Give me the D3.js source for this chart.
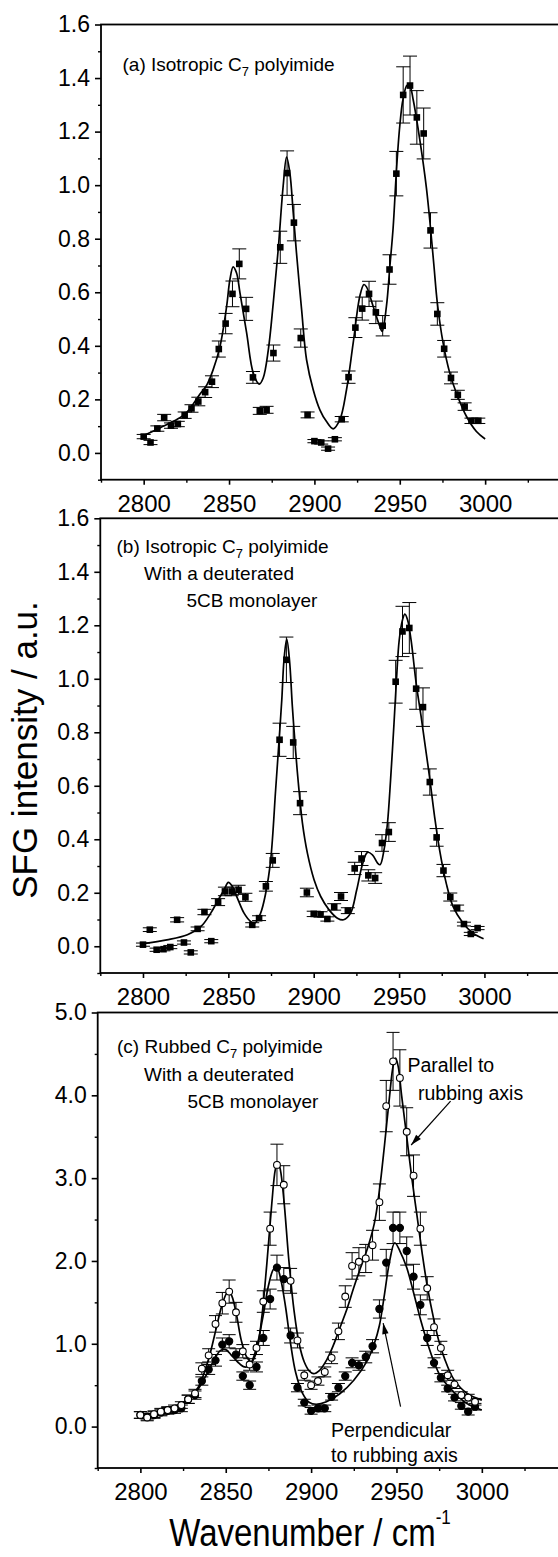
<!DOCTYPE html>
<html><head><meta charset="utf-8">
<script src="https://cdn.jsdelivr.net/npm/d3@7/dist/d3.min.js"></script>
<style>body{margin:0;background:#fff}svg{display:block}text{font-family:"Liberation Sans",Arial,sans-serif;fill:#000}</style>
</head><body>
<script>
// ---------------- DATA ----------------
const wavenumber = [2800,2804,2808,2812,2816,2820,2824,2828,2832,2836,2840,2844,2848,2852,2856,2860,2864,2868,2872,2876,
  2880,2884,2888,2892,2896,2900,2904,2908,2912,2916,2920,2924,2928,2932,2936,2940,2944,2948,2952,2956,
  2960,2964,2968,2972,2976,2980,2984,2988,2992,2996];

// (a) isotropic C7 polyimide
const isoIntensity = [0.061,0.039,0.091,0.132,0.102,0.108,0.141,0.166,0.192,0.227,0.266,0.388,0.483,0.594,0.706,0.538,0.282,0.157,0.161,0.373,
  0.768,1.045,0.860,0.429,0.142,0.044,0.039,0.016,0.051,0.126,0.283,0.468,0.539,0.594,0.525,0.475,0.685,1.043,1.337,1.372,
  1.253,1.193,0.831,0.519,0.389,0.280,0.217,0.173,0.120,0.120];
const isoError = [0.008,0.008,0.010,0.012,0.010,0.010,0.012,0.014,0.016,0.020,0.022,0.030,0.038,0.048,0.056,0.043,0.022,0.013,0.013,0.030,
  0.060,0.083,0.068,0.034,0.011,0.006,0.006,0.006,0.006,0.010,0.023,0.037,0.043,0.047,0.042,0.038,0.055,0.083,0.105,0.110,
  0.100,0.095,0.066,0.042,0.031,0.022,0.017,0.014,0.010,0.010];
const isoFit = [[2800,0.065],[2810,0.095],[2818,0.12],[2825,0.15],[2833,0.22],[2837,0.254],[2840.7,0.311],[2844.7,0.398],[2848.6,0.548],
  [2850.5,0.647],[2852.4,0.695],[2854.4,0.672],[2856.4,0.598],[2860.3,0.448],[2864.2,0.298],[2867.7,0.257],[2870,0.28],[2873,0.385],
  [2875.9,0.56],[2878.8,0.76],[2881.7,0.997],[2883.7,1.105],[2885.6,1.047],[2887.6,0.897],[2889.5,0.747],[2892.5,0.535],[2895.4,0.348],
  [2899.3,0.236],[2903.2,0.161],[2907.1,0.117],[2911,0.09],[2914.9,0.124],[2918.8,0.236],[2922.7,0.41],[2926.6,0.585],[2929,0.629],
  [2930.5,0.62],[2934.4,0.548],[2938.3,0.473],[2939.7,0.454],[2942.2,0.548],[2944.2,0.697],[2946.1,0.84],[2948.1,1.06],[2950,1.221],
  [2951.9,1.321],[2954.3,1.373],[2955.9,1.37],[2957.8,1.321],[2961.7,1.171],[2965.6,0.99],[2968,0.84],[2970,0.7],[2972,0.56],
  [2975.4,0.41],[2979.3,0.298],[2983.2,0.223],[2989.1,0.136],[2994.9,0.08],[3000,0.052]];

// (b) isotropic C7 polyimide with deuterated 5CB monolayer
const d5cbIntensity = [0.006,0.062,-0.013,-0.011,-0.003,0.099,0.014,-0.023,0.065,0.128,0.019,0.165,0.205,0.205,0.211,0.183,0.080,0.105,0.224,0.321,
  0.772,1.071,0.762,0.535,0.201,0.121,0.119,0.102,0.147,0.186,0.133,0.291,0.328,0.265,0.255,0.386,0.427,0.989,1.177,1.190,
  0.963,0.894,0.614,0.407,0.283,0.184,0.143,0.083,0.046,0.068];
const d5cbError = [0.006,0.007,0.006,0.006,0.006,0.008,0.006,0.006,0.007,0.010,0.006,0.013,0.016,0.016,0.017,0.015,0.008,0.009,0.018,0.026,
  0.062,0.085,0.060,0.043,0.016,0.010,0.010,0.008,0.012,0.015,0.011,0.023,0.026,0.021,0.020,0.031,0.035,0.080,0.094,0.095,
  0.077,0.072,0.049,0.033,0.023,0.015,0.011,0.007,0.006,0.006];
const d5cbFit = [[2800,0.01],[2814,0.024],[2826,0.043],[2834,0.074],[2839.7,0.124],[2843.6,0.168],[2847.5,0.211],[2850,0.239],[2852.3,0.224],
  [2855.3,0.18],[2859.2,0.124],[2863,0.093],[2865.4,0.086],[2868.9,0.124],[2871.9,0.199],[2874.8,0.323],[2877.7,0.585],[2879.5,0.75],
  [2881.3,0.921],[2882.6,1.071],[2884.2,1.148],[2885.8,1.071],[2887.5,0.896],[2889.5,0.722],[2891,0.61],[2893.4,0.46],[2896.3,0.348],
  [2900.2,0.249],[2904.1,0.186],[2909,0.136],[2913.9,0.105],[2917.5,0.099],[2921.6,0.124],[2925.2,0.211],[2928.5,0.305],[2931.5,0.351],
  [2934.4,0.342],[2937.4,0.311],[2938.9,0.305],[2941.2,0.361],[2943.2,0.46],[2945,0.62],[2947,0.83],[2948.5,1.0],[2950.1,1.146],
  [2952,1.22],[2953.4,1.242],[2955,1.22],[2957,1.146],[2960,0.984],[2962.9,0.859],[2965.9,0.722],[2967.8,0.635],[2970.8,0.485],
  [2973.7,0.361],[2977.6,0.236],[2981.6,0.149],[2987.4,0.087],[2993.3,0.049],[2999.5,0.028]];

// (c) rubbed C7 polyimide with deuterated 5CB monolayer
const parallelIntensity = [0.14,0.11,0.15,0.18,0.20,0.22,0.26,0.33,0.40,0.70,0.86,1.24,1.49,1.63,1.38,0.91,0.75,0.95,1.51,2.39,
  3.16,2.92,1.76,1.04,0.62,0.50,0.55,0.66,0.83,1.15,1.57,1.94,1.99,2.03,2.19,2.71,3.87,4.41,4.21,3.56,
  3.03,2.39,1.67,1.20,0.95,0.62,0.51,0.38,0.35,0.30];
const parallelError = [0.04,0.04,0.04,0.04,0.04,0.04,0.04,0.05,0.05,0.07,0.08,0.10,0.13,0.14,0.12,0.08,0.07,0.08,0.13,0.20,
  0.25,0.23,0.15,0.09,0.06,0.05,0.05,0.06,0.07,0.10,0.13,0.16,0.17,0.17,0.18,0.22,0.31,0.35,0.34,0.29,
  0.25,0.20,0.14,0.10,0.08,0.06,0.05,0.04,0.04,0.04];
const perpIntensity = [0.14,0.12,0.14,0.17,0.19,0.20,0.22,0.33,0.38,0.55,0.69,0.80,0.99,1.03,0.87,0.61,0.50,0.72,1.07,1.54,
  1.92,1.78,1.10,0.47,0.29,0.19,0.22,0.22,0.36,0.47,0.61,0.77,0.74,0.84,0.97,1.42,1.98,2.40,2.40,2.12,
  1.81,1.47,1.07,0.77,0.59,0.46,0.35,0.25,0.18,0.24];
const perpError = [0.04,0.04,0.04,0.04,0.04,0.04,0.04,0.05,0.05,0.05,0.06,0.07,0.08,0.08,0.07,0.05,0.05,0.06,0.09,0.12,
  0.15,0.14,0.09,0.05,0.04,0.04,0.04,0.04,0.04,0.05,0.05,0.06,0.06,0.07,0.08,0.11,0.16,0.19,0.19,0.17,
  0.15,0.12,0.09,0.06,0.05,0.04,0.04,0.04,0.04,0.04];
const parallelFit = [[2800,0.13],[2810,0.17],[2820,0.24],[2828,0.33],[2834,0.48],[2840,0.82],[2844,1.15],[2848,1.48],[2851,1.62],[2853,1.6],
  [2856,1.38],[2859,1.05],[2862,0.85],[2865,0.78],[2868,0.9],[2871,1.3],[2874,1.95],[2877,2.7],[2879,3.1],[2880.5,3.2],[2882,3.1],
  [2884,2.75],[2887,2.0],[2890,1.4],[2893,1.0],[2896,0.78],[2899,0.67],[2901.5,0.64],[2905,0.68],[2909,0.8],[2913,0.98],[2917,1.2],
  [2921,1.42],[2925,1.68],[2929,1.92],[2933,2.15],[2937,2.45],[2940,2.85],[2943,3.4],[2946,4.0],[2948,4.35],[2949.5,4.45],[2951,4.35],
  [2953,4.0],[2956,3.5],[2959,3.0],[2962,2.55],[2965,2.1],[2968,1.7],[2972,1.28],[2975,1.02],[2978,0.83],[2983.6,0.57],[2991.4,0.40],[3000,0.32]];
const perpFit = [[2800,0.13],[2815,0.2],[2825,0.28],[2832,0.4],[2838,0.6],[2843,0.8],[2847,0.92],[2850,0.93],[2853,0.87],[2857,0.78],
  [2861,0.72],[2864,0.74],[2868,0.95],[2872,1.35],[2875,1.7],[2878,1.9],[2880,1.92],[2882,1.8],[2885,1.45],[2888,1.0],[2891,0.65],
  [2895,0.4],[2899,0.29],[2903,0.27],[2909,0.3],[2917,0.4],[2925,0.56],[2933,0.8],[2937,1.0],[2940,1.22],[2943,1.6],[2946,2.0],
  [2949,2.22],[2952,2.12],[2956,1.92],[2960,1.62],[2964,1.3],[2968,1.02],[2972,0.78],[2976,0.6],[2982,0.45],[2991,0.28],[3000,0.2]];

// ticks
const xTicks = [2800,2850,2900,2950,3000];
const xMinorTicks = [2775,2825,2875,2925,2975,3025];
const yTicksAB = [0,0.2,0.4,0.6,0.8,1.0,1.2,1.4,1.6];
const yMinorAB = [-0.1,0.1,0.3,0.5,0.7,0.9,1.1,1.3,1.5];
const yTicksC = [0,1,2,3,4,5];
const yMinorC = [-0.5,0.5,1.5,2.5,3.5,4.5];

// ---------------- DRAW ----------------
const W = 558, H = 1557;
const svg = d3.select("body").append("svg").attr("width", W).attr("height", H);
svg.append("rect").attr("width", W).attr("height", H).attr("fill", "#fff");
const FONT = '"Liberation Sans",Arial,sans-serif';

function makePanel(cfg) {
  const x = d3.scaleLinear().domain([2775, 3050]).range([cfg.left, cfg.left + 469.5]);
  const y = d3.scaleLinear().domain(cfg.yDomain).range([cfg.bottom, cfg.top]);
  const g = svg.append("g");
  g.append("rect").attr("x", cfg.left).attr("y", cfg.top)
    .attr("width", 469.5).attr("height", cfg.bottom - cfg.top)
    .attr("fill", "none").attr("stroke", "#000").attr("stroke-width", 1.8);
  const ya = g.append("g").attr("transform", `translate(${cfg.left},0)`)
    .call(d3.axisLeft(y).tickValues(cfg.yTicks).tickSize(6).tickPadding(5).tickFormat(d3.format(".1f")));
  ya.select(".domain").remove();
  ya.selectAll("line").attr("stroke-width", 1.6);
  ya.selectAll("text").attr("font-family", FONT).attr("font-size", 23).attr("fill", "#000");
  const ym = g.append("g").attr("transform", `translate(${cfg.left},0)`)
    .call(d3.axisLeft(y).tickValues(cfg.yMinor).tickSize(3).tickFormat(""));
  ym.select(".domain").remove();
  ym.selectAll("line").attr("stroke-width", 1.4);
  const xa = g.append("g").attr("transform", `translate(0,${cfg.bottom})`)
    .call(d3.axisBottom(x).tickValues(xTicks).tickSize(5).tickPadding(10).tickFormat(d3.format("d")));
  xa.select(".domain").remove();
  xa.selectAll("line").attr("stroke-width", 1.6);
  xa.selectAll("text").attr("font-family", FONT).attr("font-size", 24).attr("fill", "#000");
  const xm = g.append("g").attr("transform", `translate(0,${cfg.bottom})`)
    .call(d3.axisBottom(x).tickValues(xMinorTicks).tickSize(3).tickFormat(""));
  xm.select(".domain").remove();
  xm.selectAll("line").attr("stroke-width", 1.4);
  return {x, y, g};
}

const line = (x, y) => d3.line().x(d => x(d[0])).y(d => y(d[1])).curve(d3.curveCatmullRom.alpha(0.5));

function drawSeries(p, vals, errs, cap) {
  const {x, y, g} = p;
  const data = wavenumber.map((w, i) => ({w, v: vals[i], e: errs[i]}));
  const eb = g.append("g").attr("stroke", "#000").attr("stroke-width", 1);
  eb.selectAll("line.v").data(data).join("line").attr("class", "v")
    .attr("x1", d => x(d.w)).attr("x2", d => x(d.w))
    .attr("y1", d => y(d.v - d.e)).attr("y2", d => y(d.v + d.e));
  eb.selectAll("line.t").data(data).join("line").attr("class", "t")
    .attr("x1", d => x(d.w) - cap / 2).attr("x2", d => x(d.w) + cap / 2)
    .attr("y1", d => y(d.v + d.e)).attr("y2", d => y(d.v + d.e));
  eb.selectAll("line.b").data(data).join("line").attr("class", "b")
    .attr("x1", d => x(d.w) - cap / 2).attr("x2", d => x(d.w) + cap / 2)
    .attr("y1", d => y(d.v - d.e)).attr("y2", d => y(d.v - d.e));
  return data;
}
function drawFit(p, fit) {
  p.g.append("path").datum(fit).attr("d", line(p.x, p.y))
    .attr("fill", "none").attr("stroke", "#000").attr("stroke-width", 1.7);
}
function drawSquares(p, data) {
  const s = 6.6;
  p.g.append("g").selectAll("rect").data(data).join("rect")
    .attr("x", d => p.x(d.w) - s / 2).attr("y", d => p.y(d.v) - s / 2)
    .attr("width", s).attr("height", s).attr("fill", "#000");
}
function drawCircles(p, data, filled) {
  p.g.append("g").selectAll("circle").data(data).join("circle")
    .attr("cx", d => p.x(d.w)).attr("cy", d => p.y(d.v)).attr("r", filled ? 3.6 : 3.4)
    .attr("fill", filled ? "#000" : "#fff").attr("stroke", "#000").attr("stroke-width", 1.1);
}
function label(g, xp, yp, parts, size) {
  const t = g.append("text").attr("x", xp).attr("y", yp).attr("font-family", FONT).attr("font-size", size);
  parts.forEach(pt => {
    if (pt.sub) t.append("tspan").text(pt.t).attr("font-size", size * 0.68).attr("dy", 5);
    else t.append("tspan").text(pt.t).attr("dy", pt.after ? -5 : 0);
  });
  return t;
}

// Panel (a)
const pa = makePanel({left: 101, top: 24.5, bottom: 479.7, yDomain: [-0.1, 1.6], yTicks: yTicksAB, yMinor: yMinorAB});
drawFit(pa, isoFit);
drawSquares(pa, drawSeries(pa, isoIntensity, isoError, 14));
label(pa.g, 122.5, 71, [{t: "(a) Isotropic C"}, {t: "7", sub: true}, {t: " polyimide", after: true}], 19);

// Panel (b)
const pb = makePanel({left: 100.3, top: 518.3, bottom: 973, yDomain: [-0.1, 1.6], yTicks: yTicksAB, yMinor: yMinorAB});
drawFit(pb, d5cbFit);
drawSquares(pb, drawSeries(pb, d5cbIntensity, d5cbError, 14));
label(pb.g, 116.5, 553, [{t: "(b) Isotropic C"}, {t: "7", sub: true}, {t: " polyimide", after: true}], 19);
label(pb.g, 144, 580, [{t: "With a deuterated"}], 19);
label(pb.g, 186.5, 607, [{t: "5CB monolayer"}], 19);

// Panel (c)
const pc = makePanel({left: 97.7, top: 1012.5, bottom: 1468, yDomain: [-0.5, 5.0], yTicks: yTicksC, yMinor: yMinorC});
drawFit(pc, parallelFit);
drawFit(pc, perpFit);
const dcp = drawSeries(pc, parallelIntensity, parallelError, 13);
const dcs = drawSeries(pc, perpIntensity, perpError, 13);
drawCircles(pc, dcs, true);
drawCircles(pc, dcp, false);
label(pc.g, 117, 1053, [{t: "(c) Rubbed C"}, {t: "7", sub: true}, {t: " polyimide", after: true}], 19);
label(pc.g, 144, 1081, [{t: "With a deuterated"}], 19);
label(pc.g, 187.5, 1108, [{t: "5CB monolayer"}], 19);
label(pc.g, 407.5, 1072, [{t: "Parallel to"}], 19.5);
label(pc.g, 418, 1100, [{t: "rubbing axis"}], 19.5);
label(pc.g, 331, 1437, [{t: "Perpendicular"}], 19.5);
label(pc.g, 331, 1462, [{t: "to rubbing axis"}], 19.5);

function arrow(p, from, to) {
  const x1 = p.x(from[0]), y1 = p.y(from[1]), x2 = p.x(to[0]), y2 = p.y(to[1]);
  p.g.append("line").attr("x1", x1).attr("y1", y1).attr("x2", x2).attr("y2", y2)
    .attr("stroke", "#000").attr("stroke-width", 1.2);
  const a = Math.atan2(y2 - y1, x2 - x1), L = 11, w = 3.2;
  const bx = x2 - L * Math.cos(a), by = y2 - L * Math.sin(a);
  const pts = [[x2, y2], [bx + w * Math.sin(a), by - w * Math.cos(a)], [bx - w * Math.sin(a), by + w * Math.cos(a)]];
  p.g.append("polygon").attr("points", pts.map(q => q.join(",")).join(" ")).attr("fill", "#000");
}
arrow(pc, [2981.7, 3.93], [2958.6, 3.40]);
arrow(pc, [2952.4, 0.24], [2942.2, 1.25]);

// axis titles
svg.append("text").attr("transform", "translate(37,750) rotate(-90)").attr("text-anchor", "middle")
  .attr("font-family", FONT).attr("font-size", 35).text("SFG intensity / a.u.");
const xt = svg.append("text").attr("transform", "translate(310,1546) scale(1,1.2)").attr("text-anchor", "middle")
  .attr("font-family", FONT).attr("font-size", 33);
xt.append("tspan").text("Wavenumber / cm");
xt.append("tspan").text("-1").attr("font-size", 17).attr("dy", -18);
</script>
</body></html>
